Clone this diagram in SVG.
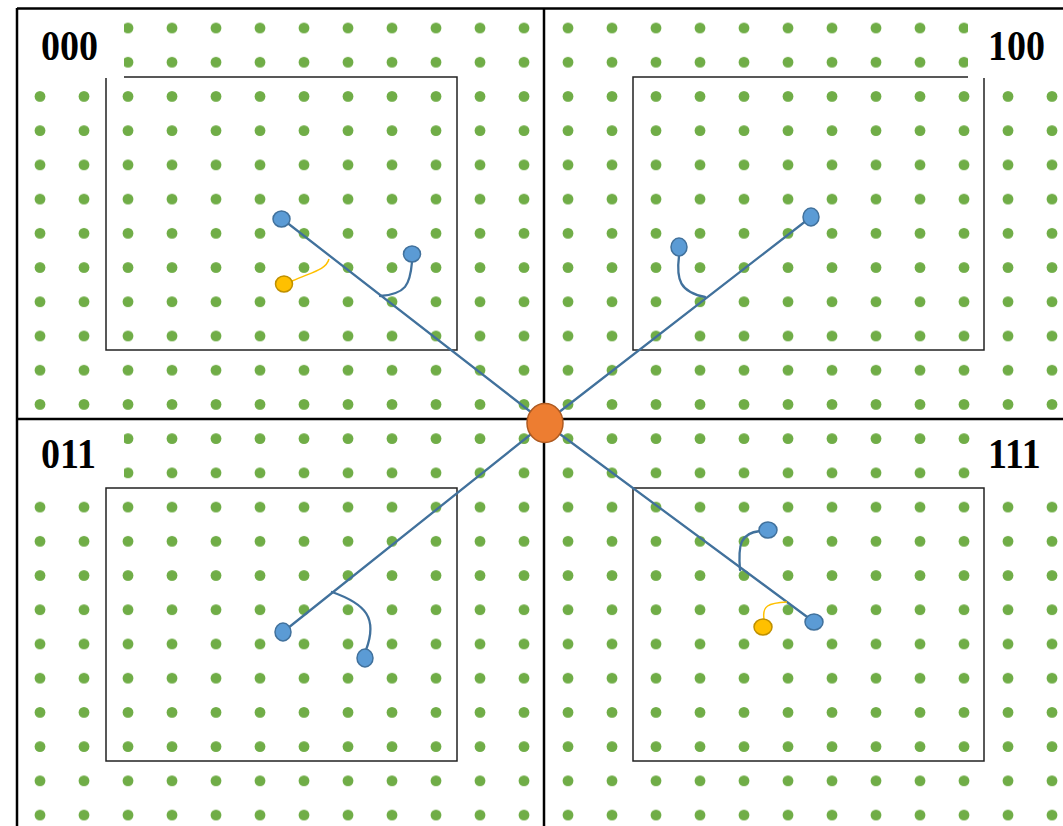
<svg xmlns="http://www.w3.org/2000/svg" width="1063" height="826" viewBox="0 0 1063 826">
  <style>
    .frame{stroke:#000;stroke-width:2.5;fill:none}
    .inner{stroke:#222;stroke-width:1.5;fill:none}
    .label{font-family:"Liberation Serif","Times New Roman",serif;font-weight:bold;font-size:38px;fill:#000}
    .conn{stroke:#41719C;stroke-width:2.3;fill:none;stroke-linecap:round}
    .yconn{stroke:#FFC000;stroke-width:1.5;fill:none}
    .bnode{fill:#5B9BD5;stroke:#41719C;stroke-width:1.5}
    .ynode{fill:#FFC000;stroke:#BF9000;stroke-width:1.5}
    .hub{fill:#ED7D31;stroke:#AE5A21;stroke-width:1.5}
  </style>
  <defs>
    <pattern id="dots" patternUnits="userSpaceOnUse" x="18" y="10.89" width="44" height="34.22">
      <circle cx="22" cy="17.11" r="5.4" fill="#70AD47"/>
    </pattern>
  </defs>
  <rect width="1063" height="826" fill="#fff"/>
  <rect x="17" y="8" width="1046" height="818" fill="url(#dots)"/>
  <g id="inner-rects">
    <rect class="inner" x="106" y="77" width="351" height="273"/>
    <rect class="inner" x="633" y="77" width="351" height="273"/>
    <rect class="inner" x="106" y="488" width="351" height="273"/>
    <rect class="inner" x="633" y="488" width="351" height="273"/>
  </g>
  <g id="label-boxes" fill="#fff">
    <rect x="18" y="9" width="106" height="69"/>
    <rect x="968" y="9" width="95" height="69"/>
    <rect x="18" y="420" width="106" height="65"/>
    <rect x="972" y="420" width="91" height="65"/>
  </g>
  <g id="frame">
    <line class="frame" x1="17" y1="8.5" x2="1063" y2="8.5"/>
    <line class="frame" x1="17" y1="8" x2="17" y2="826"/>
    <line class="frame" x1="544" y1="8" x2="544" y2="826"/>
    <line class="frame" x1="17" y1="419" x2="1063" y2="419"/>
  </g>
  <g id="labels">
    <text class="label" transform="translate(41,60) scale(1,1.1)">000</text>
    <text class="label" transform="translate(988,60) scale(1,1.1)">100</text>
    <text class="label" transform="translate(41,468) scale(1,1.1)">011</text>
    <text class="label" transform="translate(988,468) scale(1,1.1)">111</text>
  </g>
  <g id="connectors">
    <line class="conn" x1="545" y1="423" x2="281" y2="218"/>
    <line class="conn" x1="545" y1="423" x2="811" y2="217"/>
    <line class="conn" x1="545" y1="423" x2="283" y2="632"/>
    <line class="conn" x1="545" y1="423" x2="814" y2="622"/>
    <path class="conn" d="M412,262 C410,285 406,294 380,296"/>
    <path class="yconn" d="M292,281 C312,272 326,270 329,259"/>
    <path class="conn" d="M679,256 C676,280 680,292 705,297"/>
    <path class="conn" d="M332,592 C366,604 378,618 366,650"/>
    <path class="conn" d="M740,570 C738,545 740,533 760,531"/>
    <path class="yconn" d="M764,619 C762,606 768,603 787,602"/>
  </g>
  <g id="node-hub"><ellipse class="hub" cx="545" cy="423" rx="18" ry="19.5"/></g>
  <g id="node-000-a"><ellipse class="bnode" cx="281.5" cy="219" rx="8.5" ry="8"/></g>
  <g id="node-000-b"><ellipse class="bnode" cx="412" cy="254" rx="8.5" ry="8"/></g>
  <g id="node-000-y"><ellipse class="ynode" cx="284" cy="284" rx="8.5" ry="8"/></g>
  <g id="node-100-a"><ellipse class="bnode" cx="811" cy="217" rx="8" ry="9"/></g>
  <g id="node-100-b"><ellipse class="bnode" cx="679" cy="247" rx="8" ry="9"/></g>
  <g id="node-011-a"><ellipse class="bnode" cx="283" cy="632" rx="8" ry="9"/></g>
  <g id="node-011-b"><ellipse class="bnode" cx="365" cy="658" rx="8" ry="9"/></g>
  <g id="node-111-a"><ellipse class="bnode" cx="814" cy="622" rx="9" ry="8"/></g>
  <g id="node-111-b"><ellipse class="bnode" cx="768" cy="530" rx="9" ry="8"/></g>
  <g id="node-111-y"><ellipse class="ynode" cx="763" cy="627" rx="9" ry="8"/></g>
</svg>
